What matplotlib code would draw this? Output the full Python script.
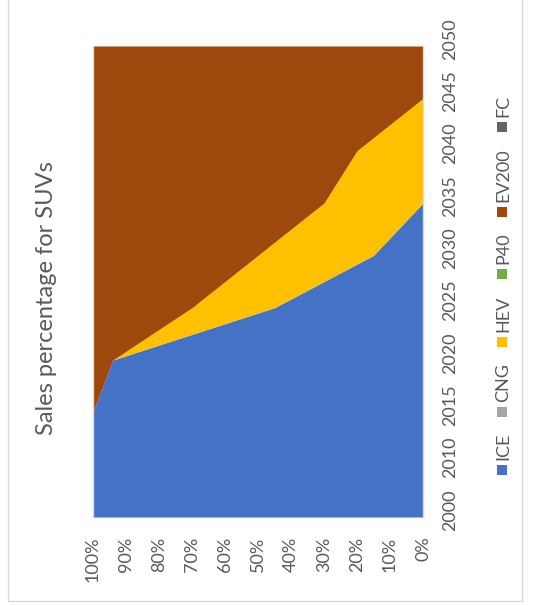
import matplotlib
matplotlib.use('Agg')
import matplotlib.pyplot as plt
import matplotlib.transforms as mtransforms
import numpy as np
from matplotlib.patches import Rectangle

plt.rcParams['font.family'] = ['Lato', 'DejaVu Sans']

# Sales shares (%) by powertrain for SUVs
years = ['2000', '2010', '2015', '2020', '2025', '2030', '2035', '2040', '2045', '2050']
ice = [100, 100, 100, 94, 45, 15, 0, 0, 0, 0]
cng = [0, 0, 0, 0, 0, 0, 0, 0, 0, 0]
hev = [0, 0, 0, 0, 25, 35, 30, 20, 0, 0]
p40 = [0, 0, 0, 0, 0, 0, 0, 0, 0, 0]
ev200 = [0, 0, 0, 6, 30, 50, 70, 80, 100, 100]
fc = [0, 0, 0, 0, 0, 0, 0, 0, 0, 0]

series_names = ['ICE', 'CNG', 'HEV', 'P40', 'EV200', 'FC']
series_values = [ice, cng, hev, p40, ev200, fc]
series_colors = ['#4472C4', '#A5A5A5', '#FFC000', '#70AD47', '#9E480E', '#636363']

TEXT = '#595959'
W, H = 540, 606


def fx(px):
    return px / W


def fy(py):
    return 1 - py / H


fig = plt.figure(figsize=(W / 100, H / 100), dpi=100)

# chart frame
fig.add_artist(Rectangle((fx(8), fy(601)), fx(522) - fx(8), fy(-5) - fy(601),
                         fill=False, edgecolor='#D9D9D9', linewidth=1,
                         transform=fig.transFigure, clip_on=False))

# the chart is laid out turned a quarter turn: years run upward, shares run right-to-left
ax = fig.add_axes([fx(93), fy(517), fx(423) - fx(93), fy(46) - fy(517)])
pos = np.arange(len(years))
base = np.zeros(len(years))
for vals, color in zip(series_values, series_colors):
    top = base + np.asarray(vals, dtype=float)
    ax.fill_betweenx(pos, base, top, color=color, linewidth=0)
    base = top

ax.set_xlim(100, 0)
ax.set_ylim(pos[0], pos[-1])
pct = np.arange(0, 101, 10)
ax.set_xticks(pct)
ax.set_xticklabels([f'{v}%' for v in pct], rotation=90, va='top', ha='center')
ax.yaxis.tick_right()
ax.set_yticks(pos)
ax.set_yticklabels(years, rotation=90, va='center', ha='left')
ax.tick_params(axis='x', length=0, pad=14, labelsize=13, labelcolor=TEXT)
ax.tick_params(axis='y', length=0, pad=14, labelsize=13, labelcolor=TEXT)
shift = mtransforms.ScaledTranslation(0, 0.07, fig.dpi_scale_trans)
for lbl in ax.get_yticklabels():
    lbl.set_transform(lbl.get_transform() + shift)
for side in ('top', 'bottom'):
    ax.spines[side].set_visible(False)
for side in ('left', 'right'):
    ax.spines[side].set_color('#D9D9D9')
    ax.spines[side].set_linewidth(1)

fig.text(fx(47), fy(298), 'Sales percentage for SUVs', rotation=90,
         ha='center', va='center', fontsize=17, color=TEXT)

# legend column, stacked upward
fig.canvas.draw()
renderer = fig.canvas.get_renderer()
texts = [fig.text(0, 0, n, rotation=90, ha='center', va='bottom',
                  fontsize=13, color=TEXT) for n in series_names]
lengths = [t.get_window_extent(renderer).height for t in texts]
sq, gap_st, gap_entry = 10, 5, 16
total = sum(sq + gap_st + L for L in lengths) + gap_entry * (len(texts) - 1)
y_cur = 285 + total / 2
for t, L, color in zip(texts, lengths, series_colors):
    fig.add_artist(Rectangle((fx(497), fy(y_cur)), sq / W, sq / H,
                             facecolor=color, edgecolor='none',
                             transform=fig.transFigure))
    t_bottom = y_cur - sq - gap_st
    t.set_position((fx(503), fy(t_bottom)))
    y_cur = t_bottom - L - gap_entry

fig.savefig('out.png', dpi=100)
